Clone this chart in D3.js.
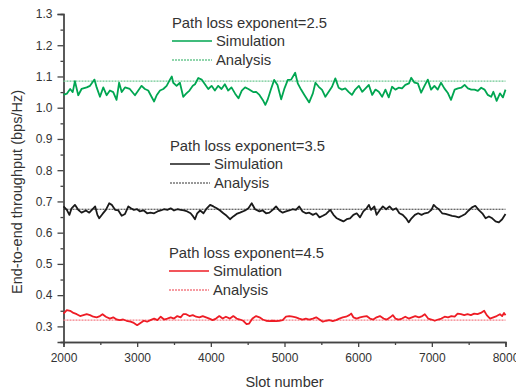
<!DOCTYPE html>
<html>
<head>
<meta charset="utf-8">
<script src="https://cdn.jsdelivr.net/npm/d3@7"></script>
<style>
  body { margin: 0; background: #fff; }
  #my_dataviz { width: 516px; height: 392px; }
  text { font-family: "Liberation Sans", Arial, sans-serif; fill: #333; }
</style>
</head>
<body>
<div id="my_dataviz"></div>
<script>
// data
var greenSlots = [2000,2045,2090,2125,2155,2200,2245,2315,2360,2420,2450,2495,2540,2585,2630,2675,2720,2755,2790,2835,2900,2970,3015,3060,3105,3150,3195,3230,3265,3310,3355,3400,3445,3470,3490,3535,3580,3625,3665,3710,3755,3785,3830,3875,3920,3965,4010,4055,4100,4145,4190,4235,4280,4330,4375,4420,4465,4510,4575,4615,4660,4705,4740,4770,4815,4860,4905,4955,5000,5045,5090,5145,5180,5225,5270,5335,5385,5420,5465,5510,5555,5600,5645,5690,5735,5780,5825,5870,5915,5960,6010,6055,6100,6145,6190,6235,6280,6325,6370,6415,6460,6505,6550,6595,6640,6690,6720,6765,6810,6855,6900,6945,6990,7035,7080,7125,7170,7215,7260,7310,7355,7400,7445,7490,7535,7580,7625,7670,7715,7760,7805,7835,7880,7925,7965,8000];
var greenValues = [1.041,1.045,1.060,1.050,1.085,1.040,1.060,1.065,1.070,1.090,1.065,1.035,1.065,1.040,1.055,1.050,1.025,1.080,1.050,1.065,1.060,1.040,1.055,1.070,1.060,1.055,1.035,1.020,1.040,1.055,1.060,1.070,1.090,1.100,1.080,1.070,1.080,1.035,1.045,1.055,1.070,1.075,1.095,1.090,1.075,1.060,1.070,1.055,1.070,1.060,1.075,1.055,1.065,1.045,1.030,1.055,1.065,1.060,1.050,1.051,1.041,1.025,1.009,1.025,1.058,1.089,1.073,1.027,1.062,1.089,1.090,1.112,1.078,1.058,1.041,1.017,1.046,1.080,1.067,1.057,1.035,1.051,1.067,1.094,1.064,1.058,1.062,1.051,1.041,1.058,1.070,1.051,1.062,1.073,1.041,1.058,1.051,1.035,1.058,1.033,1.067,1.058,1.064,1.062,1.073,1.078,1.096,1.080,1.078,1.048,1.070,1.090,1.058,1.070,1.058,1.080,1.062,1.048,1.025,1.058,1.062,1.064,1.073,1.062,1.058,1.058,1.054,1.064,1.058,1.041,1.035,1.051,1.022,1.046,1.033,1.058];

var blackSlots = [2000,2045,2080,2110,2155,2200,2245,2305,2350,2405,2430,2460,2485,2530,2575,2620,2655,2700,2745,2790,2835,2880,2915,2955,3000,3035,3090,3135,3180,3230,3275,3320,3365,3410,3455,3500,3545,3590,3635,3680,3725,3760,3785,3815,3855,3900,3945,3990,4035,4080,4125,4170,4215,4260,4305,4350,4395,4465,4510,4555,4600,4660,4705,4750,4795,4840,4885,4930,4975,5020,5065,5110,5155,5200,5245,5290,5335,5385,5430,5475,5520,5565,5620,5665,5710,5755,5800,5845,5890,5935,5980,6025,6070,6115,6145,6175,6220,6250,6290,6335,6380,6425,6470,6515,6560,6605,6650,6685,6725,6770,6815,6860,6905,6950,6995,7025,7060,7095,7140,7185,7230,7275,7320,7365,7410,7455,7500,7545,7590,7635,7685,7730,7775,7820,7865,7910,7955,8000];
var blackValues = [0.684,0.673,0.657,0.678,0.689,0.673,0.664,0.671,0.664,0.678,0.684,0.657,0.646,0.660,0.673,0.694,0.689,0.673,0.671,0.654,0.660,0.684,0.678,0.673,0.675,0.668,0.671,0.662,0.664,0.662,0.668,0.671,0.675,0.673,0.678,0.671,0.675,0.673,0.671,0.668,0.662,0.652,0.643,0.662,0.671,0.662,0.678,0.689,0.684,0.678,0.671,0.662,0.654,0.643,0.652,0.660,0.664,0.671,0.678,0.694,0.675,0.668,0.671,0.662,0.664,0.673,0.684,0.671,0.664,0.668,0.671,0.675,0.673,0.684,0.668,0.662,0.664,0.657,0.662,0.649,0.654,0.660,0.673,0.657,0.646,0.641,0.636,0.643,0.646,0.657,0.662,0.649,0.668,0.678,0.689,0.673,0.684,0.657,0.671,0.684,0.675,0.684,0.673,0.678,0.662,0.657,0.646,0.633,0.646,0.657,0.662,0.657,0.662,0.664,0.673,0.689,0.681,0.675,0.662,0.660,0.657,0.654,0.652,0.649,0.654,0.660,0.671,0.681,0.686,0.673,0.662,0.646,0.652,0.646,0.636,0.633,0.643,0.660];

var redSlots = [2000,2045,2090,2135,2180,2225,2270,2315,2360,2405,2450,2495,2530,2575,2630,2675,2720,2765,2810,2855,2910,2955,3000,3045,3090,3135,3180,3230,3275,3320,3365,3410,3455,3500,3545,3590,3625,3665,3710,3755,3800,3845,3890,3935,3980,4025,4070,4115,4160,4205,4260,4305,4350,4395,4440,4485,4520,4565,4615,4660,4705,4750,4795,4840,4885,4930,4975,5020,5065,5110,5155,5200,5245,5290,5335,5385,5430,5475,5520,5565,5610,5655,5700,5745,5790,5835,5880,5905,5935,5980,6025,6070,6115,6160,6205,6250,6295,6345,6390,6435,6470,6505,6550,6595,6640,6685,6730,6775,6825,6870,6905,6950,6995,7040,7085,7130,7175,7220,7265,7310,7350,7395,7440,7485,7530,7575,7620,7665,7710,7745,7790,7835,7880,7925,7955,7980,8000];
var redValues = [0.341,0.352,0.350,0.343,0.339,0.333,0.336,0.339,0.336,0.331,0.329,0.333,0.339,0.331,0.325,0.329,0.322,0.320,0.322,0.318,0.315,0.311,0.304,0.311,0.318,0.315,0.320,0.325,0.320,0.331,0.322,0.325,0.329,0.325,0.333,0.329,0.339,0.339,0.333,0.336,0.331,0.329,0.333,0.329,0.325,0.320,0.325,0.333,0.325,0.331,0.325,0.333,0.325,0.322,0.318,0.307,0.309,0.325,0.333,0.329,0.322,0.318,0.317,0.318,0.317,0.318,0.320,0.331,0.333,0.331,0.329,0.325,0.322,0.325,0.322,0.325,0.329,0.322,0.315,0.318,0.320,0.317,0.320,0.325,0.329,0.331,0.336,0.341,0.329,0.325,0.329,0.331,0.333,0.325,0.322,0.329,0.333,0.325,0.322,0.329,0.336,0.325,0.322,0.325,0.331,0.325,0.329,0.333,0.329,0.333,0.339,0.325,0.322,0.318,0.322,0.325,0.331,0.329,0.333,0.331,0.341,0.339,0.336,0.339,0.336,0.341,0.339,0.343,0.350,0.336,0.325,0.329,0.333,0.339,0.333,0.343,0.336];

var analysisValues = [1.085, 0.675, 0.32];
var exponentLabels = ["Path loss exponent=2.5", "Path loss exponent=3.5", "Path loss exponent=4.5"];
var legendTexts = ["Simulation", "Analysis"];
var xTicks = [2000, 3000, 4000, 5000, 6000, 7000, 8000];
var yTicks = [0.3, 0.4, 0.5, 0.6, 0.7, 0.8, 0.9, 1.0, 1.1, 1.2, 1.3];

var simColors = ["#00a651", "#1a1a1a", "#ee1c25"];
var anaColors = ["#6cc891", "#333333", "#f47c84"];

var div_width = 516, div_height = 392;
var margin = {top: 14, right: 10.5, bottom: 50, left: 63.5},
    width = div_width - margin.left - margin.right,
    height = div_height - margin.top - margin.bottom;

var svg = d3.select("#my_dataviz")
  .append("svg")
  .attr("width", div_width)
  .attr("height", div_height)
  .append("g")
  .attr("transform", "translate(" + margin.left + "," + margin.top + ")");

var x = d3.scaleLinear().domain([2000, 8000]).range([0, width]);
var y = d3.scaleLinear().domain([0.25, 1.3]).range([height, 0]);

// minor ticks
var xMinor = d3.range(2500, 8000, 1000);
var yMinor = d3.range(0.25, 1.3, 0.1);

svg.append("g")
  .attr("class", "axis")
  .attr("transform", "translate(0," + height + ")")
  .call(d3.axisBottom(x).tickValues(xMinor).tickSize(3).tickFormat(""));
svg.append("g")
  .attr("class", "axis")
  .attr("transform", "translate(0," + height + ")")
  .call(d3.axisBottom(x).tickValues(xTicks).tickSize(5).tickPadding(6).tickFormat(d3.format("d")));

svg.append("g")
  .attr("class", "axis")
  .call(d3.axisLeft(y).tickValues(yMinor).tickSize(3).tickFormat(""));
svg.append("g")
  .attr("class", "axis")
  .call(d3.axisLeft(y).tickValues(yTicks).tickSize(6).tickPadding(5).tickFormat(d3.format(".1f")));

svg.selectAll(".axis path, .axis line")
  .attr("stroke", "#444")
  .attr("stroke-width", 1.3);
svg.selectAll(".axis text")
  .style("font-size", "12px")
  .attr("fill", "#333");

// axis titles
svg.append("text")
  .attr("x", width / 2)
  .attr("y", height + 45)
  .attr("text-anchor", "middle")
  .style("font-size", "14.5px")
  .text("Slot number");
svg.append("text")
  .attr("transform", "translate(" + (22 - margin.left) + "," + (192 - margin.top) + ") rotate(-90)")
  .attr("text-anchor", "middle")
  .style("font-size", "14.5px")
  .text("End-to-end throughput (bps/Hz)");

// analysis lines
svg.selectAll(".analysis")
  .data(analysisValues)
  .enter()
  .append("line")
  .attr("class", "analysis")
  .attr("x1", x(2000))
  .attr("x2", x(8000))
  .attr("y1", function(d){ return y(d); })
  .attr("y2", function(d){ return y(d); })
  .attr("stroke", function(d, i){ return anaColors[i]; })
  .attr("stroke-width", function(d, i){ return i == 1 ? 1 : 1.4; })
  .attr("stroke-dasharray", "2,1");

// simulation curves
var series = [
  {slots: greenSlots, values: greenValues},
  {slots: blackSlots, values: blackValues},
  {slots: redSlots, values: redValues}
];
var line = d3.line()
  .x(function(d){ return x(d[0]); })
  .y(function(d){ return y(d[1]); });

series.forEach(function(s, i) {
  svg.append("path")
    .datum(d3.zip(s.slots, s.values))
    .attr("fill", "none")
    .attr("stroke", simColors[i])
    .attr("stroke-width", 1.8)
    .attr("stroke-linejoin", "round")
    .attr("d", line);
});

// legends
var legendPos = [{x: 172, y: 27.5}, {x: 170, y: 150.5}, {x: 169, y: 257.5}];
legendPos.forEach(function(p, i) {
  var g = svg.append("g")
    .attr("transform", "translate(" + (p.x - margin.left) + "," + (p.y - margin.top) + ")");
  g.append("text")
    .style("font-size", "14.8px")
    .text(exponentLabels[i]);
  g.append("line")
    .attr("x1", 0).attr("x2", 40)
    .attr("y1", 13.5).attr("y2", 13.5)
    .attr("stroke", simColors[i])
    .attr("stroke-width", 1.3);
  g.append("text")
    .attr("x", 44).attr("y", 18.5)
    .style("font-size", "14.8px")
    .text(legendTexts[0]);
  g.append("line")
    .attr("x1", 0).attr("x2", 40)
    .attr("y1", 32.5).attr("y2", 32.5)
    .attr("stroke", anaColors[i])
    .attr("stroke-width", i == 1 ? 1 : 1.4)
    .attr("stroke-dasharray", "2,1");
  g.append("text")
    .attr("x", 44).attr("y", 37.5)
    .style("font-size", "14.8px")
    .text(legendTexts[1]);
});
</script>
</body>
</html>
